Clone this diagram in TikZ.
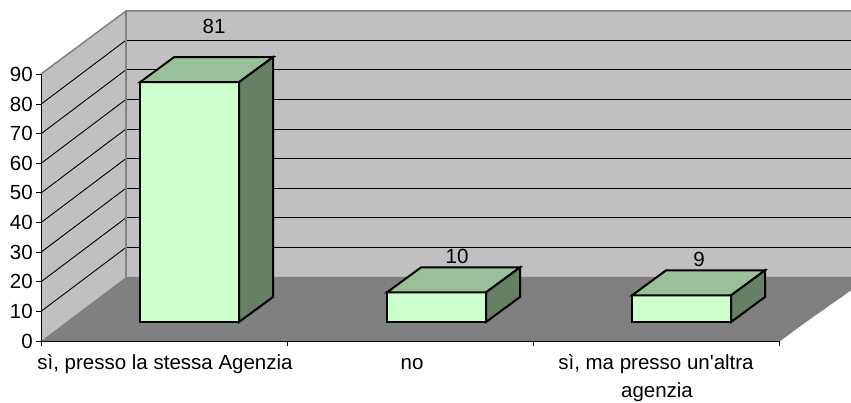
\documentclass[tikz,border=0pt]{standalone}
\usepackage{fontspec}
\setmainfont{Liberation Sans}
\definecolor{wallc}{HTML}{C0C0C0}
\definecolor{floorc}{HTML}{808080}
\definecolor{edgec}{HTML}{808080}
\definecolor{frontc}{HTML}{CCFFCC}
\definecolor{topc}{HTML}{99C099}
\definecolor{sidec}{HTML}{668066}
\newcommand{\drawcolumn}[3]{%
  \filldraw[barline,fill=frontc] (#1,322) rectangle (#2,#3);
  \filldraw[barline,fill=topc] (#1,#3) -- ({#1+34},{#3-25}) -- ({#2+34},{#3-25}) -- (#2,#3) -- cycle;
  \filldraw[barline,fill=sidec] (#2,#3) -- ({#2+34},{#3-25}) -- ({#2+34},297) -- (#2,322) -- cycle;
}
\begin{document}
\begin{tikzpicture}[x=1pt,y=-1pt,line join=miter,
  grid/.style={black,line width=0.9pt},
  edge/.style={edgec,line width=1.5pt},
  barline/.style={black,line width=2pt},
  axis/.style={black,line width=1pt},
  lbl/.style={font=\fontsize{20.5}{24}\selectfont,inner sep=0pt}]
\useasboundingbox (0,0) rectangle (851,403);
\clip (0,0) rectangle (851,403);
% walls and floor
\fill[wallc] (126,11) rectangle (870,277);
\fill[wallc] (41,74) -- (126,11) -- (126,277) -- (41,341) -- cycle;
\fill[floorc] (41,341) -- (126,277) -- (870,277) -- (779,341) -- cycle;
% gridlines
\foreach \v in {10,20,...,80} {
  \draw[grid] (126,{277-2.96*\v}) -- (870,{277-2.96*\v});
  \draw[grid] (41,{341-2.96*\v}) -- (126,{277-2.96*\v});
}
\draw[edge] (41,74) -- (126,11) -- (870,11);
\draw[edge] (126,11) -- (126,277);
\draw[edge] (779,341) -- (865,277);
% bars
\drawcolumn{140}{239}{82.2}
\drawcolumn{387}{486}{292.4}
\drawcolumn{632}{731}{295.4}
% axes
\draw[axis] (41,74) -- (41,341) -- (779,341);
\foreach \v in {0,10,...,90} {
  \draw[axis] (36,{341-2.96*\v}) -- (41,{341-2.96*\v});
  \node[lbl,anchor=base east] (y\v) at (33,{348-2.96*\v}) {\v};
}
\foreach \x in {41,287,533,779} \draw[axis] (\x,341) -- (\x,346);
% value labels
\node[lbl,anchor=base] (v1) at (214,34) {81};
\node[lbl,anchor=base] (v2) at (457,264) {10};
\node[lbl,anchor=base] (v3) at (699,266.5) {9};
% category labels
\node[lbl,anchor=base] (c1) at (165,369) {sì, presso la stessa Agenzia};
\node[lbl,anchor=base] (c2) at (412,369) {no};
\node[lbl,anchor=base] (c3) at (656,369) {sì, ma presso un\textquotesingle altra};
\node[lbl,anchor=base] (c3b) at (657,397) {agenzia};
\end{tikzpicture}
\end{document}
